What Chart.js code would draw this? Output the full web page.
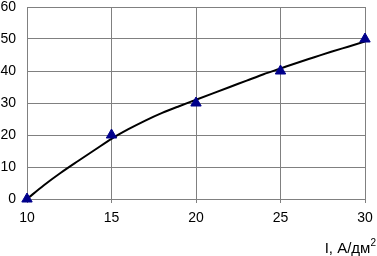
<!DOCTYPE html>
<html>
<head>
<meta charset="utf-8">
<script src="https://cdn.jsdelivr.net/npm/chart.js@4"></script>
<style>
    html, body { margin: 0; padding: 0; background: #fff; overflow: hidden; }
    #wrap { position: relative; width: 377px; height: 256px; }
    #axisTitle {
        position: absolute; right: 1px; top: 240px;
        font-family: "Liberation Sans", Arial, sans-serif; font-size: 15px; color: #000;
        white-space: nowrap; line-height: 15px;
    }
    #axisTitle sup { font-size: 10px; line-height: 0; vertical-align: 0; position: relative; top: -7px; }
</style>
</head>
<body>
<div id="wrap">
    <canvas id="chart" width="377" height="256"></canvas>
    <div id="axisTitle">I, А/дм<sup>2</sup></div>
</div>
<script>
// measured points
const currentDensity = [10, 15, 20, 25, 30];
const measured = [0, 20, 30, 40, 50];

// trend curve
const curveX = [10, 11, 12, 13, 14, 15, 16, 17, 18, 19, 20, 21, 22, 23, 24, 25, 26, 27, 28, 29, 30];
const curveY = [0, 4.3, 8.2, 11.8, 15.3, 18.8, 21.8, 24.5, 26.9, 29.0, 31.0, 33.0, 35.0, 37.0, 39.0, 40.8, 42.6, 44.3, 46.0, 47.6, 49.2];

const xTicks = [10, 15, 20, 25, 30];
const yTicks = [0, 10, 20, 30, 40, 50, 60];

const tickFont = { family: '"Liberation Sans", Arial, sans-serif', size: 14 };

new Chart(document.getElementById('chart'), {
    type: 'scatter',
    data: {
        datasets: [
            {
                label: 'measured',
                data: currentDensity.map(function (x, i) { return { x: x, y: measured[i] }; }),
                pointStyle: 'triangle',
                pointRadius: 6,
                backgroundColor: '#00008b',
                borderColor: '#00008b',
                borderWidth: 1,
                showLine: false,
                clip: false,
                order: 0
            },
            {
                label: 'trend',
                data: curveX.map(function (x, i) { return { x: x, y: curveY[i] }; }),
                showLine: true,
                borderColor: '#000',
                borderWidth: 2,
                pointRadius: 0,
                tension: 0.4,
                cubicInterpolationMode: 'monotone',
                order: 1
            }
        ]
    },
    options: {
        responsive: false,
        animation: false,
        layout: { padding: { top: 5, right: 12, left: 0, bottom: 0 } },
        plugins: { legend: { display: false }, tooltip: { enabled: false } },
        scales: {
            x: {
                type: 'linear',
                min: 10, max: 30,
                afterBuildTicks: function (scale) {
                    scale.ticks = xTicks.map(function (v) { return { value: v }; });
                },
                afterFit: function (scale) {
                    scale.height = 57;
                    scale.paddingLeft = 0;
                    scale.paddingRight = 0;
                },
                grid: { color: '#808080', lineWidth: 1, drawTicks: true, tickLength: 4, tickColor: '#808080' },
                border: { color: '#808080' },
                ticks: { color: '#000', font: tickFont, padding: 7, maxRotation: 0 }
            },
            y: {
                min: 0, max: 60,
                afterBuildTicks: function (scale) {
                    scale.ticks = yTicks.map(function (v) { return { value: v }; });
                },
                afterFit: function (scale) {
                    scale.width = 27;
                    scale.paddingTop = 0;
                    scale.paddingBottom = 0;
                },
                grid: { color: '#808080', lineWidth: 1, drawTicks: false },
                border: { color: '#808080' },
                ticks: { color: '#000', font: tickFont, padding: 11 }
            }
        }
    }
});
</script>
</body>
</html>
